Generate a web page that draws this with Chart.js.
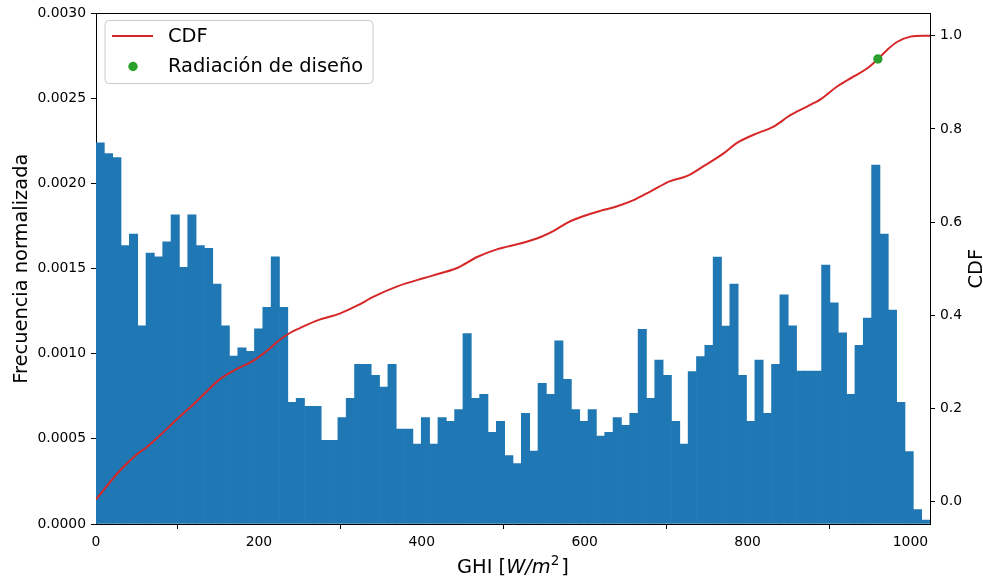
<!DOCTYPE html>
<html>
<head>
<meta charset="utf-8">
<script src="https://cdn.jsdelivr.net/npm/chart.js@4/dist/chart.umd.min.js"></script>
<style>
  html, body { margin: 0; padding: 0; background: #ffffff; }
  #wrap { width: 983px; height: 582px; }
</style>
</head>
<body>
<div id="wrap"><canvas id="c" width="983" height="582"></canvas></div>
<script>
// Histogram of GHI: 100 equal bins between ghiMin and ghiMax
const ghiMin = 0;
const ghiMax = 1024;
const binCount = 100;

// Normalised frequency of each bin
const frequency = [
  0.00224, 0.002176, 0.002152, 0.001635, 0.001703, 0.001164, 0.001592, 0.00157, 0.001658, 0.001816,
  0.001508, 0.001816, 0.001635, 0.001619, 0.00141, 0.001164, 0.000986, 0.001035, 0.001014, 0.001146,
  0.001273, 0.00157, 0.001273, 0.000715, 0.000738, 0.000691, 0.000691, 0.000492, 0.000492, 0.000625,
  0.000738, 0.000938, 0.000938, 0.000873, 0.000805, 0.000938, 0.000557, 0.000557, 0.000469, 0.000625,
  0.000469, 0.000625, 0.000603, 0.000672, 0.001119, 0.000738, 0.000762, 0.000539, 0.000603, 0.000402,
  0.000355, 0.00065, 0.000428, 0.000826, 0.000762, 0.001076, 0.00085, 0.000672, 0.000603, 0.000672,
  0.000516, 0.000539, 0.000625, 0.00058, 0.00065, 0.001144, 0.000738, 0.000963, 0.000873, 0.000603,
  0.000469, 0.000896, 0.000984, 0.00105, 0.001568, 0.001162, 0.00141, 0.000873, 0.000603, 0.000963,
  0.00065, 0.000938, 0.001346, 0.001164, 0.000898, 0.000898, 0.000898, 0.001521, 0.001299, 0.001123,
  0.000762, 0.00105, 0.001209, 0.002109, 0.001703, 0.001256, 0.000715, 0.000426, 0.000084, 0.000023
];

// Cumulative distribution sampled along GHI
const cdfGhi = [
  0, 30, 51, 63, 79, 100, 116, 132, 153, 173, 194, 210, 227, 239, 251, 272, 300, 321, 341, 370,
  403, 423, 444, 468, 493, 521, 546, 562, 579, 599, 619, 640, 660, 681, 705, 726, 746, 771, 787, 808,
  832, 853, 873, 890, 910, 930, 947, 960, 971, 984, 1000, 1016, 1024
];
const cdfValue = [
  0.005, 0.068, 0.103, 0.118, 0.143, 0.178, 0.203, 0.23, 0.264, 0.285, 0.303, 0.324, 0.349, 0.363, 0.373, 0.389, 0.404, 0.421, 0.44, 0.462,
  0.48, 0.49, 0.502, 0.525, 0.542, 0.554, 0.568, 0.581, 0.599, 0.613, 0.624, 0.634, 0.647, 0.666, 0.688, 0.699, 0.72, 0.748, 0.77, 0.788,
  0.805, 0.83, 0.848, 0.864, 0.891, 0.912, 0.93, 0.95, 0.969, 0.987, 0.998, 1.0, 1.0
];

// Design irradiance point
const designGhi = [960];
const designCdf = [0.95];

// Axis ticks
const ghiTicks = [0, 200, 400, 600, 800, 1000];
const freqTicks = [0, 0.0005, 0.001, 0.0015, 0.002, 0.0025, 0.003];
const cdfTicks = [0, 0.2, 0.4, 0.6, 0.8, 1.0];

const FONT = 'DejaVu Sans';
const BLUE = '#1f77b4', RED = '#d62728', GREEN = '#2ca02c';

const binWidth = (ghiMax - ghiMin) / binCount;
const histPoints = frequency.map((f, i) => ({ x: ghiMin + (i + 0.5) * binWidth, y: f }));
const cdfPoints = cdfGhi.map((g, i) => ({ x: g, y: cdfValue[i] }));
const designPoints = designGhi.map((g, i) => ({ x: g, y: designCdf[i] }));

const axisGrid = { display: true, drawOnChartArea: false, drawTicks: true, tickLength: 5, tickColor: '#000', tickWidth: 1 };
const axisBorder = { display: true, color: '#000', width: 1 };
const tickFont = { family: FONT, size: 13.9 };

// Frame, axis labels and legend drawn on the canvas
const decorations = {
  id: 'decorations',
  afterDraw(chart) {
    const ctx = chart.ctx;
    const a = chart.chartArea;
    ctx.save();
    // top spine
    ctx.strokeStyle = '#000';
    ctx.lineWidth = 1;
    ctx.beginPath();
    ctx.moveTo(a.left, Math.round(a.top) + 0.5);
    ctx.lineTo(a.right, Math.round(a.top) + 0.5);
    ctx.stroke();

    ctx.fillStyle = '#000';
    const labelSize = 19.4;
    // x label: GHI [W/m^2]
    const base = 573;
    const parts = [
      { t: 'GHI [', f: `${labelSize}px "${FONT}"`, dy: 0 },
      { t: 'W/m', f: `oblique ${labelSize}px "${FONT}"`, dy: 0 },
      { t: '2', f: `${labelSize * 0.7}px "${FONT}"`, dy: -8 },
      { t: ']', f: `${labelSize}px "${FONT}"`, dy: 0 }
    ];
    let total = 0;
    parts.forEach(p => { ctx.font = p.f; p.w = ctx.measureText(p.t).width; total += p.w; });
    total += 2;
    let x = (a.left + a.right) / 2 - total / 2;
    ctx.textBaseline = 'alphabetic';
    ctx.textAlign = 'left';
    parts.forEach((p, i) => {
      ctx.font = p.f;
      ctx.fillText(p.t, x, base + p.dy);
      x += p.w + (i === 2 ? 2 : 0);
    });

    const midY = (a.top + a.bottom) / 2;
    ctx.font = `${labelSize}px "${FONT}"`;
    ctx.textAlign = 'center';
    // left y label
    ctx.save();
    ctx.translate(27, midY);
    ctx.rotate(-Math.PI / 2);
    ctx.fillText('Frecuencia normalizada', 0, 0);
    ctx.restore();
    // right y label
    ctx.save();
    ctx.translate(982, midY);
    ctx.rotate(-Math.PI / 2);
    ctx.fillText('CDF', 0, 0);
    ctx.restore();

    // legend
    const lx = 105, ly = 20.5, lw = 268, lh = 63, r = 4;
    ctx.beginPath();
    ctx.moveTo(lx + r, ly);
    ctx.lineTo(lx + lw - r, ly);
    ctx.quadraticCurveTo(lx + lw, ly, lx + lw, ly + r);
    ctx.lineTo(lx + lw, ly + lh - r);
    ctx.quadraticCurveTo(lx + lw, ly + lh, lx + lw - r, ly + lh);
    ctx.lineTo(lx + r, ly + lh);
    ctx.quadraticCurveTo(lx, ly + lh, lx, ly + lh - r);
    ctx.lineTo(lx, ly + r);
    ctx.quadraticCurveTo(lx, ly, lx + r, ly);
    ctx.closePath();
    ctx.fillStyle = 'rgba(255,255,255,0.8)';
    ctx.fill();
    ctx.strokeStyle = '#cccccc';
    ctx.lineWidth = 1;
    ctx.stroke();

    ctx.strokeStyle = RED;
    ctx.lineWidth = 2;
    ctx.beginPath();
    ctx.moveTo(112, 36);
    ctx.lineTo(153, 36);
    ctx.stroke();

    ctx.fillStyle = GREEN;
    ctx.beginPath();
    ctx.arc(133, 66.5, 4.7, 0, Math.PI * 2);
    ctx.fill();

    ctx.fillStyle = '#000';
    ctx.textAlign = 'left';
    ctx.textBaseline = 'middle';
    ctx.font = `${labelSize}px "${FONT}"`;
    ctx.fillText('CDF', 168, 37);
    ctx.fillText('Radiación de diseño', 168, 67);
    ctx.restore();
  }
};

new Chart(document.getElementById('c'), {
  type: 'bar',
  data: {
    datasets: [
      {
        type: 'line',
        label: 'Radiación de diseño',
        data: designPoints,
        xAxisID: 'x',
        yAxisID: 'y1',
        showLine: false,
        pointRadius: 4.7,
        pointBorderWidth: 0,
        pointBackgroundColor: GREEN,
        pointBorderColor: GREEN,
        order: 0
      },
      {
        type: 'line',
        label: 'CDF',
        data: cdfPoints,
        xAxisID: 'x',
        yAxisID: 'y1',
        borderColor: RED,
        borderWidth: 2,
        pointRadius: 0,
        cubicInterpolationMode: 'monotone',
        fill: false,
        order: 1
      },
      {
        type: 'bar',
        label: 'Frecuencia',
        data: histPoints,
        xAxisID: 'x',
        yAxisID: 'y',
        backgroundColor: BLUE,
        borderWidth: 0,
        barPercentage: 1,
        categoryPercentage: 1,
        order: 2
      }
    ]
  },
  options: {
    responsive: false,
    animation: false,
    devicePixelRatio: 1,
    layout: { padding: { top: 12, left: 0, right: 0, bottom: 0 } },
    plugins: { legend: { display: false }, tooltip: { enabled: false }, title: { display: false } },
    scales: {
      x: {
        type: 'linear',
        min: ghiMin,
        max: ghiMax,
        offset: false,
        grid: axisGrid,
        border: axisBorder,
        ticks: { font: tickFont, color: '#000', padding: 5, maxRotation: 0, autoSkip: false, callback: v => String(v) },
        afterBuildTicks: s => { s.ticks = ghiTicks.map(v => ({ value: v })); },
        afterFit: s => { s.height = 58; }
      },
      y: {
        type: 'linear',
        position: 'left',
        min: 0,
        max: 0.003,
        grid: axisGrid,
        border: axisBorder,
        ticks: { font: tickFont, color: '#000', padding: 5, callback: v => Number(v).toFixed(4) },
        afterBuildTicks: s => { s.ticks = freqTicks.map(v => ({ value: v })); },
        afterFit: s => { s.width = 96; }
      },
      y1: {
        type: 'linear',
        position: 'right',
        min: -0.048,
        max: 1.048,
        grid: axisGrid,
        border: axisBorder,
        ticks: { font: tickFont, color: '#000', padding: 5, callback: v => Number(v).toFixed(1) },
        afterBuildTicks: s => { s.ticks = cdfTicks.map(v => ({ value: v })); },
        afterFit: s => { s.width = 53; }
      }
    }
  },
  plugins: [decorations]
});
</script>
</body>
</html>
